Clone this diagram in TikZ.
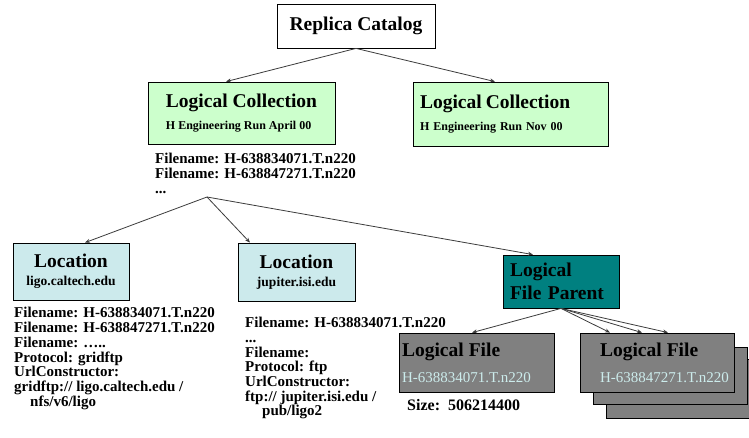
\documentclass[tikz,border=0pt]{standalone}
\usepackage{fontspec}
\setmainfont{Liberation Serif}
\usetikzlibrary{arrows.meta}

\definecolor{collgreen}{RGB}{204,255,204}
\definecolor{locblue}{RGB}{204,234,236}
\definecolor{parentteal}{RGB}{0,128,128}
\definecolor{filegray}{RGB}{128,128,128}
\definecolor{fileid}{RGB}{204,236,236}
\definecolor{linegray}{RGB}{60,60,60}

\newcommand{\bigtitle}{\fontsize{19.5}{23}\selectfont\bfseries}
\newcommand{\fileidfont}{\fontsize{15}{26}\selectfont\mdseries\color{fileid}}

\tikzset{
  box/.style={draw=black, line width=0.8pt, inner ysep=0pt},
  catbox/.style={box, fill=white, minimum width=158pt, minimum height=44pt, font=\bigtitle},
  collbox/.style={box, fill=collgreen, minimum height=62pt, align=left,
    font=\fontsize{12}{22}\selectfont\bfseries},
  locbox/.style={box, fill=locblue, minimum width=116pt, minimum height=57pt, align=center,
    font=\fontsize{13.5}{18}\selectfont\bfseries},
  parentbox/.style={box, fill=parentteal, minimum width=116pt, minimum height=53pt, align=left,
    inner xsep=7pt, text width=102pt, font=\bigtitle},
  filebox/.style={box, fill=filegray, minimum width=155pt, minimum height=59pt, align=left,
    font=\fontsize{15}{26}\selectfont\bfseries},
  info/.style={anchor=north west, inner sep=0pt, align=left, font=\fontsize{15}{14.7}\selectfont\bfseries},
  link/.style={draw=linegray, line width=0.8pt, -{Stealth[length=5pt,width=4pt]}},
}

\begin{document}
\begin{tikzpicture}[x=1pt,y=-1pt]
\fill[white] (0,0) rectangle (749,438);
\useasboundingbox (0,0) rectangle (749,438);

% catalog and collections
\node[catbox] (rc) at (356,26) {Replica Catalog};
\node[collbox, minimum width=187pt] (lc1) at (241.5,113)
  {{\bigtitle Logical Collection}\\H Engineering Run April 00};
\node[collbox, minimum width=195pt, minimum height=64pt, inner xsep=7pt, text width=181pt] (lc2) at (510.5,114)
  {{\bigtitle Logical Collection}\\H Engineering Run Nov 00};
\node[info, font=\fontsize{15}{14.5}\selectfont\bfseries] (lcfiles) at (155,153)
  {Filename: H-638834071.T.n220\\Filename: H-638847271.T.n220\\[1pt]...};
\coordinate (fan) at (207,197);

% locations
\node[locbox] (loc1) at (71,271.5) {{\bigtitle Location}\\ligo.caltech.edu};
\node[locbox, minimum width=117pt, minimum height=58pt] (loc2) at (296.5,272) {{\bigtitle Location}\\jupiter.isi.edu};
\node[info, font=\fontsize{15}{14.8}\selectfont\bfseries] (loc1files) at (14,307)
  {Filename: H-638834071.T.n220\\Filename: H-638847271.T.n220\\Filename: \dots..\\Protocol: gridftp\\
   UrlConstructor:\\gridftp:// ligo.caltech.edu /\\\hspace*{16pt}nfs/v6/ligo};
\node[info] (loc2files) at (245,317)
  {Filename: H-638834071.T.n220\\...\\Filename:\\Protocol: ftp\\UrlConstructor:\\
   ftp:// jupiter.isi.edu /\\\hspace*{17pt}pub/ligo2};

% logical files
\node[parentbox] (lfp) at (561,281.5) {Logical\\File Parent};
\node[filebox, inner xsep=3pt, text width=149pt] (lf1) at (476.5,362.5)
  {{\bigtitle Logical File}\\{\fileidfont H-638834071.T.n220}};
\node[info, font=\fontsize{16}{16}\selectfont\bfseries] (size) at (407,399) {Size:\ \ 506214400};
\node[filebox, minimum width=154pt] (lf2c) at (683,388.5) {};
\node[filebox, minimum width=154pt, minimum height=57pt] (lf2b) at (670,375.5) {};
\node[filebox, minimum width=154pt, inner xsep=2pt, text width=150pt] (lf2) at (657,362.5)
  {\hspace*{18pt}{\bigtitle Logical File}\\\hspace*{18pt}{\fileidfont H-638847271.T.n220}};

% connectors
\draw[link] (rc.south) -- ([xshift=-15.5pt]lc1.north);
\draw[link] (rc.south) -- ([xshift=-15.5pt]lc2.north);
\draw[link] (fan) -- ([xshift=14pt]loc1.north);
\draw[link] (fan) -- ([xshift=-46.5pt]loc2.north);
\draw[link] (fan) -- ([xshift=-28pt]lfp.north);
\draw[link] (lfp.south) -- ([xshift=-4.5pt]lf1.north);
\draw[link] (lfp.south) -- ([xshift=-47pt]lf2.north);
\draw[link] (lfp.south) -- ([xshift=-15pt]lf2.north);
\draw[link] (lfp.south) -- ([xshift=11pt]lf2.north);
\end{tikzpicture}
\end{document}
